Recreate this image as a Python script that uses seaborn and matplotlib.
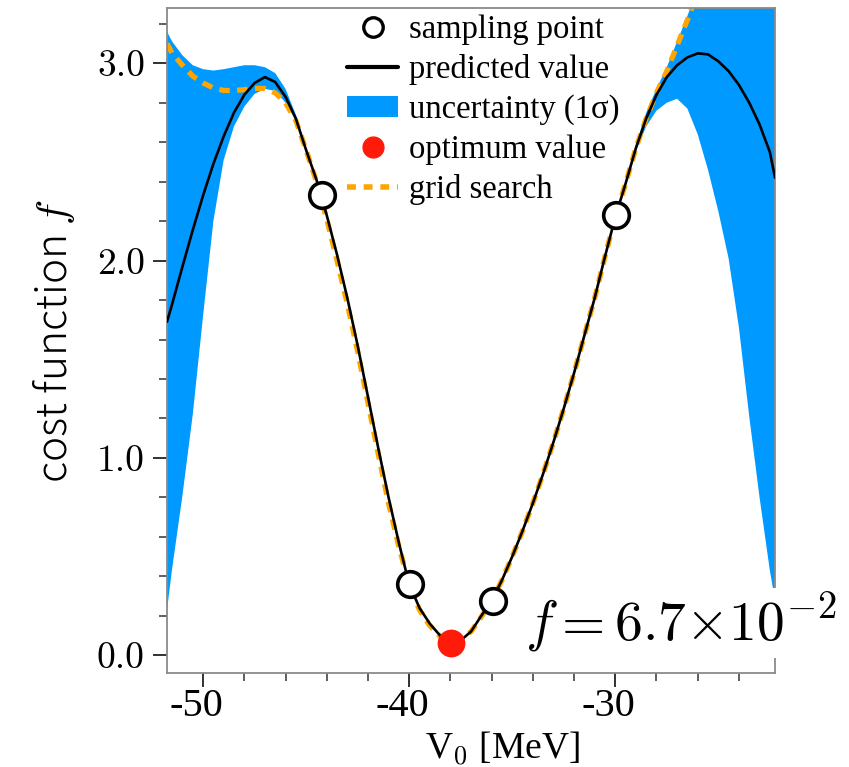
import numpy as np
import pandas as pd
import matplotlib
matplotlib.use("Agg")
import matplotlib.pyplot as plt
import matplotlib.transforms as mtransforms
from matplotlib.lines import Line2D
from matplotlib.patches import Patch
from matplotlib.ticker import MultipleLocator, FixedLocator, FixedFormatter
import seaborn as sns

# ---------------- data ----------------
v0 = [-51.75, -51.5, -51.0, -50.5, -50.0, -49.5, -49.0, -48.5, -48.0, -47.5,
      -47.0, -46.5, -46.0, -45.5, -45.0, -44.5, -44.0, -43.5, -43.0, -42.5,
      -42.0, -41.5, -41.0, -40.5, -40.0, -39.5, -39.0, -38.5, -38.0, -37.5,
      -37.0, -36.5, -36.0, -35.5, -35.0, -34.5, -34.0, -33.5, -33.0, -32.5,
      -32.0, -31.5, -31.0, -30.5, -30.0, -29.5, -29.0, -28.5, -28.0, -27.5,
      -27.0, -26.5, -26.0, -25.5, -25.0, -24.5, -24.0, -23.5, -23.0, -22.5,
      -22.25]

predicted = [1.69, 1.78, 1.97, 2.155, 2.33, 2.49, 2.63, 2.75, 2.84, 2.90,
             2.93, 2.905, 2.83, 2.72, 2.56, 2.41, 2.23, 2.03, 1.81, 1.57,
             1.31, 1.05, 0.80, 0.57, 0.36, 0.24, 0.16, 0.10, 0.067, 0.075,
             0.12, 0.20, 0.275, 0.38, 0.50, 0.63, 0.77, 0.92, 1.08, 1.25,
             1.43, 1.62, 1.81, 2.02, 2.22, 2.39, 2.57, 2.72, 2.84, 2.93,
             2.99, 3.03, 3.05, 3.045, 3.01, 2.96, 2.89, 2.80, 2.69, 2.55,
             2.42]

band_low = [0.23, 0.44, 0.81, 1.22, 1.72, 2.20, 2.51, 2.68, 2.78, 2.845,
            2.87, 2.86, 2.80, 2.71, 2.555, 2.405, 2.23, 2.03, 1.81, 1.57,
            1.31, 1.05, 0.80, 0.57, 0.36, 0.24, 0.16, 0.10, 0.067, 0.075,
            0.12, 0.20, 0.275, 0.38, 0.50, 0.63, 0.77, 0.92, 1.08, 1.25,
            1.43, 1.62, 1.81, 2.02, 2.22, 2.385, 2.555, 2.68, 2.76, 2.80,
            2.82, 2.77, 2.64, 2.46, 2.25, 2.01, 1.66, 1.21, 0.80, 0.43,
            0.28]

band_high = [3.16, 3.11, 3.04, 2.99, 2.97, 2.963, 2.97, 2.98, 2.99, 2.99,
             2.98, 2.95, 2.87, 2.74, 2.57, 2.415, 2.23, 2.03, 1.81, 1.57,
             1.31, 1.05, 0.80, 0.57, 0.36, 0.24, 0.16, 0.10, 0.067, 0.075,
             0.12, 0.20, 0.275, 0.38, 0.50, 0.63, 0.77, 0.92, 1.08, 1.25,
             1.43, 1.62, 1.81, 2.02, 2.22, 2.395, 2.585, 2.75, 2.87, 2.98,
             3.11, 3.24, 3.38, 3.52, 3.66, 3.80, 3.95, 4.10, 4.25, 4.40,
             4.50]

grid_search = [3.10, 3.05, 2.99, 2.935, 2.90, 2.875, 2.862, 2.862, 2.866, 2.873,
               2.872, 2.85, 2.80, 2.71, 2.56, 2.40, 2.21, 2.00, 1.78, 1.54,
               1.28, 1.02, 0.77, 0.55, 0.36, 0.23, 0.15, 0.095, 0.067, 0.075,
               0.12, 0.195, 0.275, 0.38, 0.50, 0.63, 0.77, 0.92, 1.08, 1.25,
               1.43, 1.62, 1.81, 2.02, 2.22, 2.39, 2.57, 2.72, 2.85, 2.96,
               3.09, 3.22, 3.36, 3.50, 3.65, 3.80, 3.95, 4.10, 4.25, 4.40,
               4.50]

sample_v0 = [-44.25, -39.95, -35.95, -29.95]
sample_f = [2.33, 0.36, 0.277, 2.23]

opt_v0 = [-37.95]
opt_f = [0.062]

x_ticks = [-50, -40, -30]
x_tick_labels = ["-50", "-40", "-30"]
y_ticks = [0.0, 1.0, 2.0, 3.0]
y_tick_labels = ["0.0", "1.0", "2.0", "3.0"]

curve = pd.DataFrame({"v0": v0, "pred": predicted, "lo": band_low,
                      "hi": band_high, "grid": grid_search})
samples = pd.DataFrame({"v0": sample_v0, "f": sample_f})
optimum = pd.DataFrame({"v0": opt_v0, "f": opt_f})

# ---------------- style ----------------
sns.set_style("ticks")
plt.rcParams["font.family"] = ["Liberation Serif", "DejaVu Serif"]
plt.rcParams["mathtext.fontset"] = "cm"
plt.rcParams["axes.unicode_minus"] = False
for key in ["text.color", "axes.labelcolor", "xtick.labelcolor", "ytick.labelcolor"]:
    plt.rcParams[key] = "black"

BLUE = "#0099ff"
ORANGE = "#ffa500"
RED = "#ff1a0a"

fig = plt.figure(figsize=(8.49, 7.67), dpi=100)
ax = fig.add_axes([167 / 849, 1 - 673 / 767, (775 - 167) / 849, (673 - 8) / 767])

ax.fill_between(curve["v0"], curve["lo"], curve["hi"], color=BLUE, lw=0, zorder=1)
sns.lineplot(data=curve, x="v0", y="grid", color=ORANGE, lw=3.8,
             linestyle=(0, (2.0, 1.4)), ax=ax, zorder=2)
sns.lineplot(data=curve, x="v0", y="pred", color="black", lw=1.9, ax=ax, zorder=3)
sns.scatterplot(data=samples, x="v0", y="f", s=340, marker="o", facecolor="white",
                edgecolor="black", linewidth=2.6, ax=ax, zorder=5, clip_on=False)
sns.scatterplot(data=optimum, x="v0", y="f", s=400, marker="o", color=RED,
                edgecolor=RED, linewidth=0, ax=ax, zorder=6, clip_on=False)

ax.set_xlim(-51.75, -22.25)
ax.set_ylim(-0.09, 3.28)

ax.xaxis.set_major_locator(FixedLocator(x_ticks))
ax.xaxis.set_major_formatter(FixedFormatter(x_tick_labels))
ax.xaxis.set_minor_locator(MultipleLocator(2))
ax.yaxis.set_major_locator(FixedLocator(y_ticks))
ax.yaxis.set_major_formatter(FixedFormatter(y_tick_labels))
ax.yaxis.set_minor_locator(MultipleLocator(0.2))

ax.tick_params(axis="both", which="major", direction="out", length=10, width=1.3,
               color="#222222", pad=6)
ax.tick_params(axis="both", which="minor", direction="out", length=6, width=1.1,
               color="#333333")
ax.tick_params(axis="x", which="major", labelsize=29, length=10, pad=1)
ax.tick_params(axis="y", which="major", labelsize=27)
for lab in ax.get_yticklabels():
    lab.set_fontfamily("cmr10")
shift = mtransforms.ScaledTranslation(-7 / 100, 0, fig.dpi_scale_trans)
for lab in ax.get_xticklabels():
    lab.set_transform(lab.get_transform() + shift)
for sp in ax.spines.values():
    sp.set_color("#8a8a8a")
    sp.set_linewidth(1.3)

ax.set_xlabel(r"V$_{\mathrm{0}}$ [MeV]", fontsize=27, labelpad=3)
ax.xaxis.label.set_x((502 - 167) / 608)
ax.set_ylabel(r"cost function $f$", fontsize=30.5,
              family=["Noto Sans CJK JP", "DejaVu Sans"],
              fontweight="light", labelpad=14)

ax.text(-34.4, 0.075, r"$f = 6.7{\times}10^{-2}$", fontsize=40, ha="left",
        va="baseline", zorder=10, clip_on=False,
        bbox=dict(boxstyle="square,pad=0.05", facecolor="white", edgecolor="none"))

handles = [
    Line2D([], [], marker="o", ls="none", markersize=14, markerfacecolor="white",
           markeredgecolor="black", markeredgewidth=2.4),
    Line2D([], [], color="black", lw=3),
    Patch(facecolor=BLUE, edgecolor="none"),
    Line2D([], [], marker="o", ls="none", markersize=15, markerfacecolor=RED,
           markeredgecolor=RED),
    Line2D([], [], color=ORANGE, lw=4, linestyle=(0, (1.6, 1.4))),
]
labels = ["sampling point", "predicted value", r"uncertainty (1σ)",
          "optimum value", "grid search"]
ax.legend(handles, labels, loc="upper left", bbox_to_anchor=(331 / 849, 1 + 2 / 767),
          bbox_transform=fig.transFigure, frameon=False, fontsize=23.5,
          handlelength=1.55, handletextpad=0.33, labelspacing=0.28, borderpad=0,
          handleheight=0.62)

fig.savefig("out.png", dpi=100)
